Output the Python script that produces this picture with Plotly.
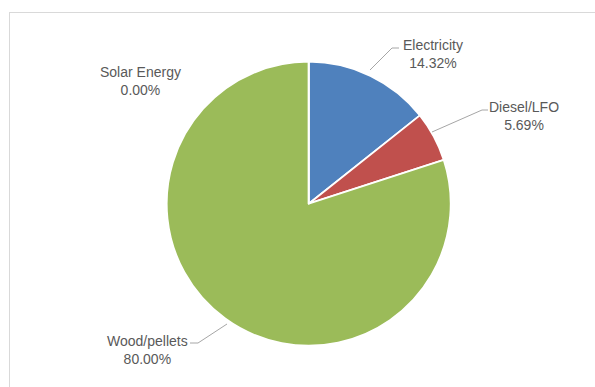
import plotly.graph_objects as go

labels = ["Electricity", "Diesel/LFO", "Wood/pellets", "Solar Energy"]
values = [14.32, 5.69, 80.00, 0.00]
colors = ["#4F81BD", "#C0504D", "#9BBB59", "#8064A2"]

W, H = 595, 387
# label text block centres (pixels) and leader lines
label_pos = {
    "Electricity": (433, 54.5),
    "Diesel/LFO": (524, 116),
    "Wood/pellets": (147, 349.5),
    "Solar Energy": (140, 81),
}
leaders = {
    "Electricity": [(370, 70), (392, 48), (399, 48)],
    "Diesel/LFO": [(432, 132), (482, 110), (488, 110)],
    "Wood/pellets": [(227, 324), (198, 343), (190, 343)],
}

def px(x):
    return x / W

def py(y):
    return 1 - y / H

cx, cy, r = 308.7, 203.7, 142
fig = go.Figure(go.Pie(
    labels=labels, values=values, sort=False, direction="clockwise",
    marker=dict(colors=colors, line=dict(color="white", width=1.8)),
    textinfo="none", hoverinfo="label+percent", showlegend=False,
    domain=dict(x=[px(cx - r), px(cx + r)], y=[py(cy + r), py(cy - r)]),
))

annotations = []
for lab, v in zip(labels, values):
    x, y = label_pos[lab]
    annotations.append(dict(
        x=px(x), y=py(y), xref="paper", yref="paper", showarrow=False,
        text=f"{lab}<br>{v:.2f}%", align="center", xanchor="center", yanchor="middle",
        font=dict(family="Liberation Sans, Arial, sans-serif", size=14, color="#595959"),
    ))

shapes = []
for lab, pts in leaders.items():
    path = "M " + " L ".join(f"{px(a)},{py(b)}" for a, b in pts)
    shapes.append(dict(type="path", xref="paper", yref="paper", path=path,
                       line=dict(color="#A6A6A6", width=1)))
# chart frame
shapes.append(dict(type="line", xref="paper", yref="paper", x0=px(9), x1=1.01,
                   y0=py(12.5), y1=py(12.5), line=dict(color="#D9D9D9", width=1)))
shapes.append(dict(type="line", xref="paper", yref="paper", x0=px(9.5), x1=px(9.5),
                   y0=py(12), y1=-0.01, line=dict(color="#D9D9D9", width=1)))

fig.update_layout(
    width=W, height=H, margin=dict(l=0, r=0, t=0, b=0),
    paper_bgcolor="white", plot_bgcolor="white",
    annotations=annotations, shapes=shapes,
)
fig.write_html("out.html")
